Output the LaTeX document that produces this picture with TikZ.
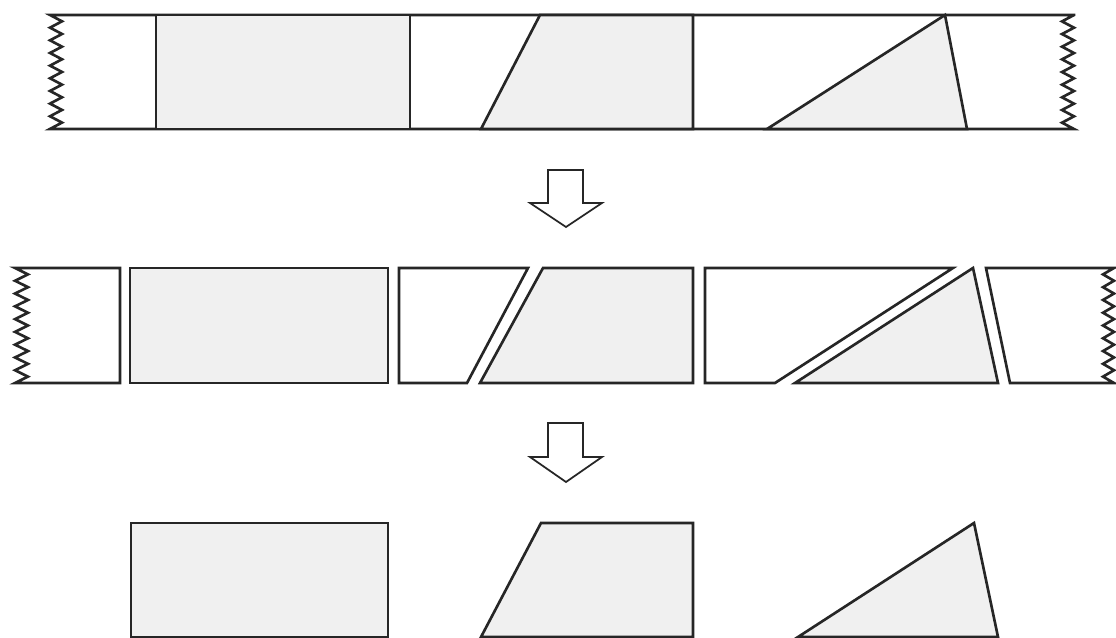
\documentclass[tikz,border=0pt]{standalone}
\usetikzlibrary{calc}
\tikzset{
  edge/.style={draw=black!85,line width=1.5pt,line join=miter},
  piece/.style={edge,fill=black!6},
  hole/.style={edge,fill=white},
  downarrow/.style={draw=black!85,line width=1pt,fill=white}
}
\begin{document}
\begin{tikzpicture}[x=0.02cm,y=-0.02cm]
\useasboundingbox (0,0) rectangle (1116,638);
% strip before cutting
\draw[hole] (1074,15) -- (50,15) foreach \k in {1,...,9} {-- ++(12,6.33) -- ++(-12,6.33)}
  -- (1074,129) foreach \k in {1,...,9} {-- ++(-12,-6.33) -- ++(12,-6.33)} -- cycle;
\draw[piece] (156,15) rectangle (410,129);
\draw[piece] (540,15) -- (693,15) -- (693,129) -- (481,129) -- cycle;
\draw[piece] (767,129) -- (945,15) -- (967,129) -- cycle;
% arrow 1
\draw[downarrow] (548,170) -- (583,170) -- (583,203) -- (602,203) -- (566,227)
  -- (530,203) -- (548,203) -- cycle;
% strip cut into pieces
\draw[hole] (120,268) -- (15,268) foreach \k in {1,...,9} {-- ++(13,6.39) -- ++(-13,6.39)}
  -- (120,383) -- cycle;
\draw[piece] (130,268) rectangle (388,383);
\draw[hole] (399,268) -- (528,268) -- (467,383) -- (399,383) -- cycle;
\draw[piece] (543,268) -- (693,268) -- (693,383) -- (480,383) -- cycle;
\draw[hole] (705,268) -- (953,268) -- (775,383) -- (705,383) -- cycle;
\draw[piece] (795,383) -- (973,268) -- (998,383) -- cycle;
\draw[hole] (986,268) -- (1114,268) foreach \k in {1,...,9} {-- ++(-11,6.39) -- ++(11,6.39)}
  -- (1010,383) -- cycle;
% arrow 2
\draw[downarrow] (548,423) -- (583,423) -- (583,457) -- (602,457) -- (566,482)
  -- (530,457) -- (548,457) -- cycle;
% pieces kept
\draw[piece] (131,523) rectangle (388,637);
\draw[piece] (541,523) -- (693,523) -- (693,637) -- (481,637) -- cycle;
\draw[piece] (798,637) -- (974,523) -- (998,637) -- cycle;
\end{tikzpicture}
\end{document}
